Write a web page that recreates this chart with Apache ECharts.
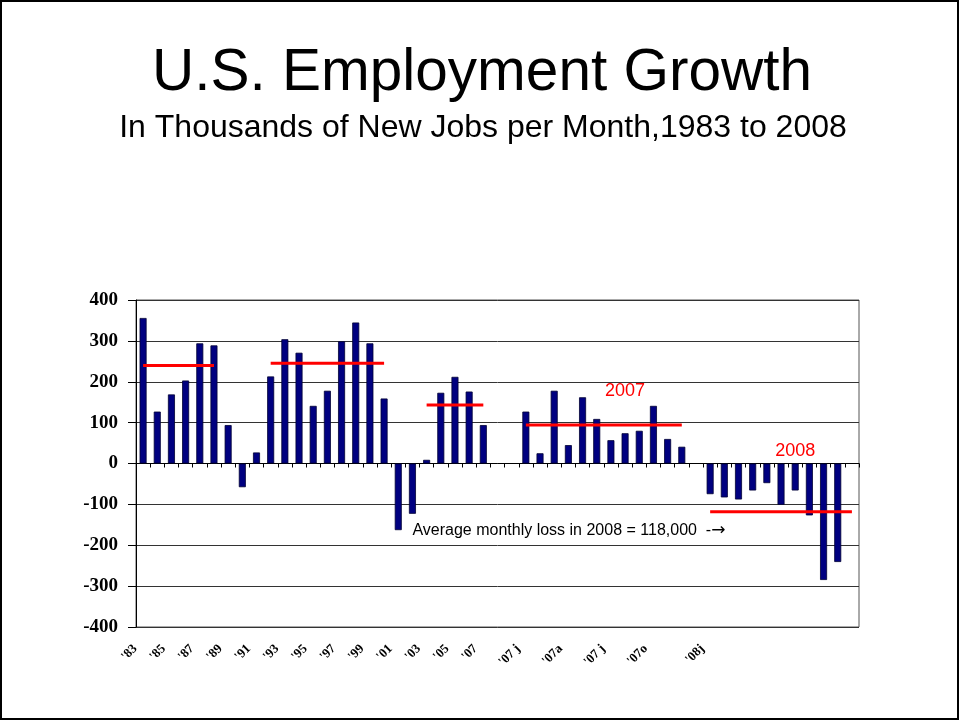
<!DOCTYPE html>
<html>
<head>
<meta charset="utf-8">
<title>U.S. Employment Growth</title>
<script src="https://cdn.jsdelivr.net/npm/echarts@6/dist/echarts.min.js"></script>
<style>
  html, body { margin: 0; padding: 0; background: #fff; }
  #chart { width: 960px; height: 721px; }
</style>
</head>
<body>
<div id="chart"></div>
<script>
// Annual averages 1983-2007, then monthly 2007 and Jan-Oct 2008 (thousands of jobs)
const annualYears = ['1983','1984','1985','1986','1987','1988','1989','1990','1991','1992','1993','1994','1995',
  '1996','1997','1998','1999','2000','2001','2002','2003','2004','2005','2006','2007'];
const annualValues = [356, 127, 169, 203, 294, 289, 94, -58, 27, 213, 304, 271, 141,
  178, 299, 345, 294, 159, -163, -123, 9, 173, 212, 176, 94];

const months2007 = ['2007-01','2007-02','2007-03','2007-04','2007-05','2007-06',
  '2007-07','2007-08','2007-09','2007-10','2007-11','2007-12'];
const values2007 = [127, 25, 178, 45, 162, 109, 57, 74, 80, 141, 60, 41];

const months2008 = ['2008-01','2008-02','2008-03','2008-04','2008-05','2008-06',
  '2008-07','2008-08','2008-09','2008-10'];
const values2008 = [-75, -83, -88, -66, -48, -101, -66, -127, -285, -241];

// Category slots: years, two spacers, 2007 months, spacer, 2008 months, spacer
const categories = [].concat(annualYears, ['gap-a', 'gap-b'], months2007, ['gap-c'], months2008, ['gap-d']);
const barValues = [].concat(annualValues, [null, null], values2007, [null], values2008, [null]);

// Text printed under each category slot ('' = no label)
const tickLabels = [
  "'83", '', "'85", '', "'87", '', "'89", '', "'91", '', "'93", '', "'95", '', "'97", '', "'99", '', "'01", '', "'03", '', "'05", '', "'07",
  '', '',
  "'07 j", '', '', "'07a", '', '', "'07 j", '', '', "'07o", '', '',
  '',
  "'08j", '', '', '', '', '', '', '', '', '',
  ''
];

// Period averages drawn as red bars across the plot: [first slot, last slot, value]
const averageSegments = [
  [0, 5, 240],
  [9, 17, 245],
  [20, 24, 143],
  [27, 38, 94],
  [40, 50, -118]
];

const yTicks = { min: -400, max: 400, interval: 100 };

const chart = echarts.init(document.getElementById('chart'), null, { renderer: 'canvas' });

const avgSeries = averageSegments.map(function (s) {
  return {
    type: 'line',
    xAxisIndex: 0,
    data: [[s[0], s[2]], [s[1], s[2]]],
    symbol: 'none',
    lineStyle: { color: '#ff0000', width: 3 },
    z: 5,
    silent: true
  };
});

const sansFont = '"Liberation Sans", Arial, sans-serif';
const serifFont = '"Liberation Serif", "Times New Roman", serif';

chart.setOption({
  animation: false,
  backgroundColor: '#ffffff',
  grid: {
    left: 136, right: 101, top: 300, bottom: 94,
    show: true, borderColor: '#555', borderWidth: 1, backgroundColor: 'transparent'
  },
  xAxis: [
    {
      type: 'category',
      data: categories,
      position: 'bottom',
      boundaryGap: true,
      axisLine: { onZero: true, lineStyle: { color: '#000', width: 1 } },
      axisTick: { show: true, interval: 0, length: 4, lineStyle: { color: '#000' } },
      axisLabel: { show: false },
      splitLine: { show: false }
    },
    {
      type: 'category',
      data: categories,
      position: 'bottom',
      boundaryGap: true,
      axisLine: { show: false, onZero: false },
      axisTick: { show: false },
      axisLabel: {
        show: true,
        interval: 0,
        rotate: 45,
        margin: 12,
        padding: [0, 11, 0, 0],
        fontFamily: serifFont,
        fontWeight: 'bold',
        fontSize: 13,
        color: '#000',
        formatter: function (v, i) { return tickLabels[i]; }
      },
      splitLine: { show: false }
    }
  ],
  yAxis: {
    type: 'value',
    min: yTicks.min,
    max: yTicks.max,
    interval: yTicks.interval,
    axisLine: { show: true, lineStyle: { color: '#000', width: 1 } },
    axisTick: { show: true, length: 8, lineStyle: { color: '#000' } },
    axisLabel: {
      margin: 18,
      fontFamily: serifFont,
      fontWeight: 'bold',
      fontSize: 19,
      color: '#000'
    },
    splitLine: { show: true, lineStyle: { color: '#333', width: 1 } }
  },
  series: [
    {
      type: 'bar',
      xAxisIndex: 0,
      data: barValues,
      barWidth: 7,
      itemStyle: { color: '#000080', borderColor: '#000033', borderWidth: 0.8 },
      z: 3,
      silent: true
    }
  ].concat(avgSeries)
});

// Titles, annotations and page frame, placed in chart coordinates where they belong to the plot
function px(idx, val) { return chart.convertToPixel({ xAxisIndex: 0, yAxisIndex: 0 }, [idx, val]); }
const p2007 = px(34.2, 177);
const p2008 = px(45.7, 30);
const pNote = px(19.0, -163);

chart.setOption({
  graphic: [
    { type: 'rect', shape: { x: 1, y: 1, width: 957, height: 718 },
      style: { fill: 'none', stroke: '#000', lineWidth: 2 }, silent: true },
    { type: 'text', x: 482, y: 74,
      style: { text: 'U.S. Employment Growth', font: '58.5px ' + sansFont, fill: '#000',
               align: 'center', verticalAlign: 'middle' } },
    { type: 'text', x: 483, y: 128,
      style: { text: 'In Thousands of New Jobs per Month,1983 to 2008', font: '32px ' + sansFont, fill: '#000',
               align: 'center', verticalAlign: 'middle' } },
    { type: 'text', x: p2007[0], y: p2007[1], z: 10,
      style: { text: '2007', font: '18px ' + sansFont, fill: '#ff0000', align: 'center', verticalAlign: 'middle' } },
    { type: 'text', x: p2008[0], y: p2008[1], z: 10,
      style: { text: '2008', font: '18px ' + sansFont, fill: '#ff0000', align: 'center', verticalAlign: 'middle' } },
    { type: 'text', x: pNote[0], y: pNote[1], z: 10,
      style: {
        text: '{t|Average monthly loss in 2008 = 118,000  -}{a|\u2192}',
        align: 'left', verticalAlign: 'middle',
        rich: {
          t: { font: '16px ' + sansFont, fill: '#000' },
          a: { font: '17px "DejaVu Sans", sans-serif', fill: '#000' }
        }
      } }
  ]
});
</script>
</body>
</html>
